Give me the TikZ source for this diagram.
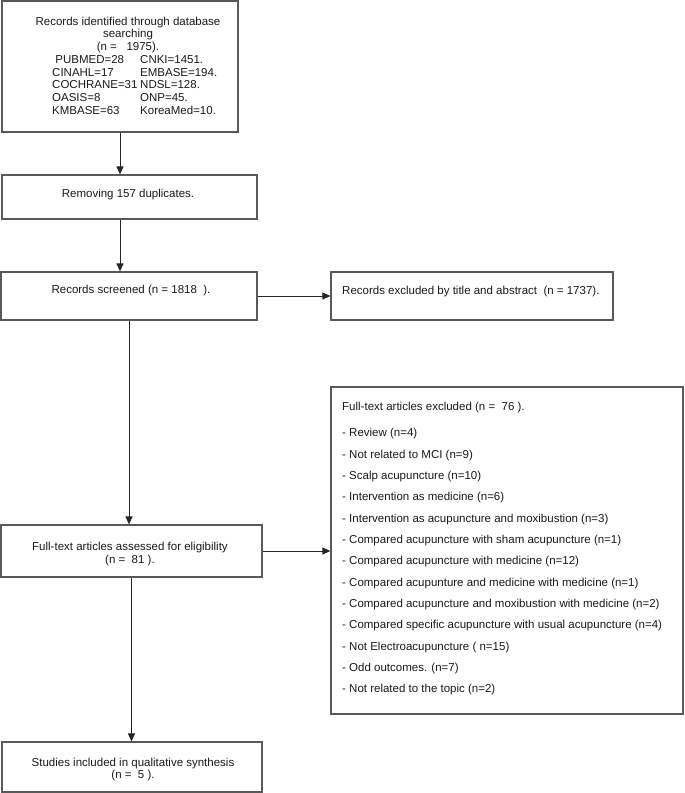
\documentclass[tikz,border=0pt]{standalone}
\usepackage{fontspec}
\setmainfont{Liberation Sans}
\usetikzlibrary{arrows.meta}
\begin{document}
\begin{tikzpicture}[x=1pt,y=-1pt,
  boxs/.style={draw=black!65,line width=1.2pt,rectangle,inner sep=0pt},
  txt/.style={inner sep=0pt,font=\fontsize{11.5}{12.6}\selectfont,text=black!90},
  conn/.style={draw=black!85,line width=1pt,-{Triangle[length=8pt,width=7pt]}}]
\useasboundingbox (0,0) rectangle (685,793);
% boxes
\node[boxs,minimum width=236pt,minimum height=131pt] (b1) at (120,66.5) {};
\node[boxs,minimum width=255pt,minimum height=44pt] (b2) at (129.5,197) {};
\node[boxs,minimum width=256pt,minimum height=48pt] (b3) at (129,296) {};
\node[boxs,minimum width=282pt,minimum height=48pt] (ex) at (472,296) {};
\node[boxs,minimum width=261pt,minimum height=52pt] (b4) at (131.5,551) {};
\node[boxs,minimum width=352pt,minimum height=327pt] (big) at (507,550.5) {};
\node[boxs,minimum width=260pt,minimum height=50pt] (b5) at (132,767) {};
% texts box 1
\node[txt,align=center] (t1) at (128,35) {Records identified through database\\searching\\(n = \ \ 1975).};
\node[txt,align=left,anchor=north west] (t1a) at (52,55.5) {\ PUBMED=28\\CINAHL=17\\COCHRANE=31\\OASIS=8\\KMBASE=63};
\node[txt,align=left,anchor=north west] (t1b) at (140,55.5) {CNKI=1451.\\EMBASE=194.\\NDSL=128.\\ONP=45.\\KoreaMed=10.};
\node[txt] (t2) at (128,195) {Removing 157 duplicates.};
\node[txt] (t3) at (131,291) {Records screened (n = 1818 \ ).};
\node[txt,anchor=west] (tex) at (342,292) {Records excluded by title and abstract \ (n = 1737).};
\node[txt,align=center] (t4) at (130,554) {Full-text articles assessed for eligibility\\(n = \ 81 ).};
\node[txt,align=center] (t5) at (133,769.5) {Studies included in qualitative synthesis\\(n = \ 5 ).};
% exclusion list
\node[txt,anchor=west] (h0) at (342,408) {Full-text articles excluded (n = \ 76 ).};
\foreach \t [count=\i] in {
 {- Review (n=4)},
 {- Not related to MCI (n=9)},
 {- Scalp acupuncture (n=10)},
 {- Intervention as medicine (n=6)},
 {- Intervention as acupuncture and moxibustion (n=3)},
 {- Compared acupuncture with sham acupuncture (n=1)},
 {- Compared acupuncture with medicine (n=12)},
 {- Compared acupunture and medicine with medicine (n=1)},
 {- Compared acupuncture and moxibustion with medicine (n=2)},
 {- Compared specific acupuncture with usual acupuncture (n=4)},
 {- Not Electroacupuncture ( n=15)},
 {- Odd outcomes. (n=7)},
 {- Not related to the topic (n=2)}}
 \node[txt,anchor=west] (l\i) at (342,{434+21.33*(\i-1)}) {\t};
% connectors
\draw[conn] (b1.south) -- (b1.south |- b2.north);
\draw[conn] (b1.south |- b2.south) -- (b1.south |- b3.north);
\draw[conn] (ex.west -| b3.east) -- (ex.west);
\draw[conn] (b3.south) -- (b3.south |- b4.north);
\draw[conn] (b4.east) -- (b4.east -| big.west);
\draw[conn] (b4.south) -- (b4.south |- b5.north);
\end{tikzpicture}
\end{document}
